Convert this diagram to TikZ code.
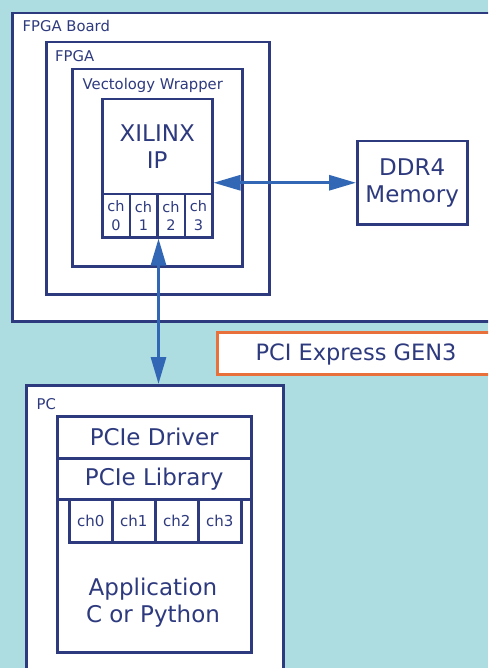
\documentclass[tikz,border=0pt]{standalone}
\usepackage{fontspec}
\setmainfont{DejaVu Sans}
\usetikzlibrary{arrows.meta}
\definecolor{bgblue}{HTML}{ADDDE1}
\definecolor{navy}{HTML}{2E3A7E}
\definecolor{arrblue}{HTML}{3167B4}
\definecolor{orng}{HTML}{E8703A}
\newcommand{\smallf}{\fontsize{14.8}{17}\selectfont}
\newcommand{\chf}{\fontsize{14.5}{18.5}\selectfont}
\newcommand{\pchf}{\fontsize{15}{18}\selectfont}
\newcommand{\bigf}{\fontsize{23}{27}\selectfont}
\begin{document}
\begin{tikzpicture}[x=1pt,y=-1pt,
  box/.style={draw=navy,line width=2.5pt,fill=white,inner sep=0pt,anchor=north west,text=navy},
  lbl/.style={inner sep=0pt,anchor=base west,text=navy,font=\smallf},
  cell/.style={box,minimum width=27.5pt,minimum height=43pt,align=center,font=\chf},
  pcell/.style={box,minimum width=43pt,minimum height=43pt,font=\pchf},
  arr/.style={draw=arrblue,line width=3pt,{Triangle[length=27pt,width=15pt]}-{Triangle[length=27pt,width=15pt]}}]
\useasboundingbox (0,0) rectangle (488,668);
\clip (0,0) rectangle (488,668);
\fill[bgblue] (0,0) rectangle (488,668);
% FPGA board
\node[box,minimum width=520pt,minimum height=308pt] (board) at (11,12) {};
\node[lbl] (boardlbl) at (22.5,32) {FPGA Board};
\node[box,minimum width=223pt,minimum height=252pt] (fpga) at (45,41) {};
\node[lbl] (fpgalbl) at (55,61.5) {FPGA};
\node[box,minimum width=170pt,minimum height=197pt] (wrap) at (71,68) {};
\node[lbl] (wraplbl) at (82.5,89.5) {Vectology Wrapper};
\node[box,minimum width=110pt,minimum height=95pt,align=center,font=\bigf] (ip) at (101,98) {XILINX\\IP};
\node[cell] (c0) at (101,193) {ch\\0};
\node[cell] (c1) at (128.5,193) {ch\\1};
\node[cell] (c2) at (156,193) {ch\\2};
\node[cell] (c3) at (183.5,193) {ch\\3};
\node[box,minimum width=110pt,minimum height=83pt,align=center,font=\bigf] (ddr) at (356,140) {DDR4\\Memory};
% PCI express label
\node[box,draw=orng,minimum width=310pt,minimum height=42pt] (pcie) at (216,331) {};
\node[inner sep=0pt,text=navy,font=\fontsize{22.5}{26}\selectfont] (pcietxt) at (356,354) {PCI Express GEN3};
% PC
\node[box,minimum width=257pt,minimum height=320pt] (pc) at (25,384) {};
\node[lbl] (pclbl) at (36.5,409) {PC};
\node[box,minimum width=194pt,minimum height=236pt] (app) at (56,415) {};
\node[box,minimum width=194pt,minimum height=42pt,font=\bigf] (drv) at (56,415) {PCIe Driver};
\node[box,minimum width=194pt,minimum height=41pt,font=\bigf] (lib) at (56,457) {PCIe Library};
\node[pcell] (p0) at (68,498) {ch0};
\node[pcell] (p1) at (111,498) {ch1};
\node[pcell] (p2) at (154,498) {ch2};
\node[pcell] (p3) at (197,498) {ch3};
\node[inner sep=0pt,align=center,text=navy,font=\bigf] (apptxt) at (153,603) {Application\\C or Python};
% arrows
\draw[arr] (ip.east |- ddr.west) -- (ddr.west);
\draw[arr] (c1.south east) -- (c1.south east |- pc.north);
\end{tikzpicture}
\end{document}
